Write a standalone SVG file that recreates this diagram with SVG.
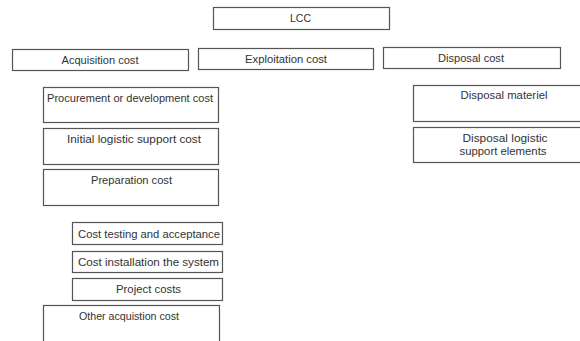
<svg xmlns="http://www.w3.org/2000/svg" width="580" height="341" viewBox="0 0 580 341">
  <style>
    .box { fill: #ffffff; stroke: #555555; stroke-width: 1.2; }
    .lbl { font-family: "Liberation Sans", Arial, sans-serif; font-size: 10.7px; fill: #333333; text-anchor: middle; }
  </style>
  <rect x="0" y="0" width="580" height="341" fill="#ffffff"/>

  <g id="lcc">
    <rect class="box" x="213.5" y="7.5" width="176" height="22"/>
    <text class="lbl" x="300.5" y="22" textLength="21" lengthAdjust="spacingAndGlyphs">LCC</text>
  </g>

  <g id="acquisition-cost">
    <rect class="box" x="12.5" y="49.5" width="176" height="21"/>
    <text class="lbl" x="100" y="63.5" textLength="77" lengthAdjust="spacingAndGlyphs">Acquisition cost</text>
  </g>
  <g id="exploitation-cost">
    <rect class="box" x="198.5" y="48.5" width="175" height="21"/>
    <text class="lbl" x="286" y="62.5" textLength="82" lengthAdjust="spacingAndGlyphs">Exploitation cost</text>
  </g>
  <g id="disposal-cost">
    <rect class="box" x="383.5" y="47.5" width="177" height="21"/>
    <text class="lbl" x="471" y="61.5" textLength="66" lengthAdjust="spacingAndGlyphs">Disposal cost</text>
  </g>

  <g id="procurement">
    <rect class="box" x="43.5" y="87.5" width="175" height="35"/>
    <text class="lbl" x="130" y="102" textLength="166" lengthAdjust="spacingAndGlyphs">Procurement or development cost</text>
  </g>
  <g id="initial-logistic">
    <rect class="box" x="43.5" y="128.5" width="175" height="36"/>
    <text class="lbl" x="134" y="143" textLength="134" lengthAdjust="spacingAndGlyphs">Initial logistic support cost</text>
  </g>
  <g id="preparation">
    <rect class="box" x="43.5" y="169.5" width="175" height="36"/>
    <text class="lbl" x="131.5" y="184" textLength="81" lengthAdjust="spacingAndGlyphs">Preparation cost</text>
  </g>
  <g id="testing">
    <rect class="box" x="72.5" y="222.5" width="150" height="22"/>
    <text class="lbl" x="149" y="238" textLength="142" lengthAdjust="spacingAndGlyphs">Cost testing and acceptance</text>
  </g>
  <g id="installation">
    <rect class="box" x="72.5" y="251.5" width="150" height="21"/>
    <text class="lbl" x="148.5" y="266" textLength="141" lengthAdjust="spacingAndGlyphs">Cost installation the system</text>
  </g>
  <g id="project">
    <rect class="box" x="72.5" y="278.5" width="150" height="22"/>
    <text class="lbl" x="148.5" y="293" textLength="65" lengthAdjust="spacingAndGlyphs">Project costs</text>
  </g>
  <g id="other-acquisition">
    <rect class="box" x="43.5" y="305.5" width="176" height="45"/>
    <text class="lbl" x="129" y="320" textLength="100" lengthAdjust="spacingAndGlyphs">Other acquistion cost</text>
  </g>

  <g id="disposal-materiel">
    <rect class="box" x="413.5" y="85.5" width="182" height="36"/>
    <text class="lbl" x="504" y="99" textLength="87" lengthAdjust="spacingAndGlyphs">Disposal materiel</text>
  </g>
  <g id="disposal-logistic">
    <rect class="box" x="413.5" y="127.5" width="182" height="35"/>
    <text class="lbl" x="505" y="142" textLength="85" lengthAdjust="spacingAndGlyphs">Disposal logistic</text>
    <text class="lbl" x="503" y="155" textLength="87" lengthAdjust="spacingAndGlyphs">support elements</text>
  </g>

  <g id="connectors"/>
</svg>
